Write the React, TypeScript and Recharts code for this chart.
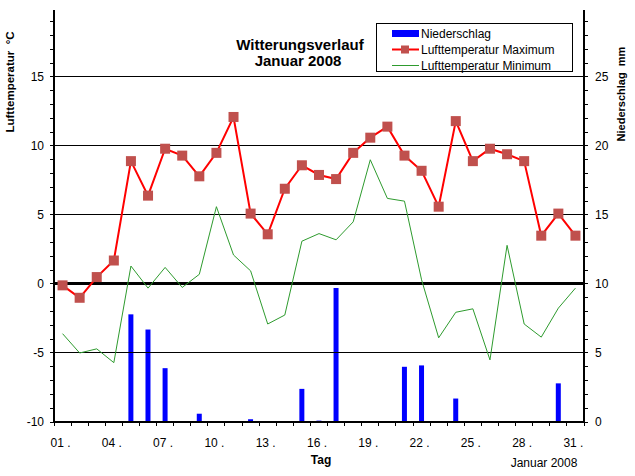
import React from 'react';
import { ComposedChart, Bar, Line, XAxis, YAxis, ReferenceLine, Legend, Customized } from 'recharts';

const days = ['01','02','03','04','05','06','07','08','09','10','11','12','13','14','15','16','17','18','19','20','21','22','23','24','25','26','27','28','29','30','31'];
const labeledDays = ['01','04','07','10','13','16','19','22','25','28','31'];
const precipitation = [0,0,0,0,7.8,6.7,3.9,0,0.6,0,0,0.2,0,0,2.4,0.1,9.7,0,0,0,4.0,4.1,0,1.7,0,0,0,0,0,2.8,0];
const tempMax = [-0.1,-1.0,0.5,1.7,8.9,6.4,9.8,9.3,7.8,9.5,12.1,5.1,3.6,6.9,8.6,7.9,7.6,9.5,10.6,11.4,9.3,8.2,5.6,11.8,8.9,9.8,9.4,8.9,3.5,5.1,3.5];
const tempMin = [-3.6,-5.0,-4.7,-5.7,1.3,-0.3,1.2,-0.25,0.7,5.6,2.1,0.95,-2.9,-2.25,3.1,3.65,3.2,4.5,9.0,6.2,6.0,0.3,-3.9,-2.05,-1.8,-5.5,2.8,-2.9,-3.85,-1.75,-0.3];
const leftTicks = [-10,-9,-8,-7,-6,-5,-4,-3,-2,-1,0,1,2,3,4,5,6,7,8,9,10,11,12,13,14,15,16,17,18,19];
const rightTicks = [0,1,2,3,4,5,6,7,8,9,10,11,12,13,14,15,16,17,18,19,20,21,22,23,24,25,26,27,28,29];
const gridLines = [-5,5,10,15];

const data = days.map((d, i) => ({ day: d, precip: precipitation[i], max: tempMax[i], min: tempMin[i] }));

const FONT = '"Liberation Sans", Arial, sans-serif';

const YTick = (props: any) => {
  const { x, y, payload, textAnchor } = props;
  if (payload.value % 5 !== 0) return <g />;
  return (
    <text x={x} y={y} dy="0.36em" textAnchor={textAnchor} fontFamily={FONT} fontSize={12} fill="#000">
      {payload.value}
    </text>
  );
};

const XTick = (props: any) => {
  const { x, y, payload, index } = props;
  const half = payload && typeof payload.offset === 'number' && payload.offset > 0 ? payload.offset : 8.56;
  return (
    <g>
      <line x1={x - half} x2={x - half} y1={y} y2={y + 4} stroke="#000" strokeWidth={1} shapeRendering="crispEdges" />
      {index === days.length - 1 && (
        <line x1={x + half} x2={x + half} y1={y} y2={y + 4} stroke="#000" strokeWidth={1} shapeRendering="crispEdges" />
      )}
      {labeledDays.includes(payload.value) && (
        <text x={x - 2} y={y + 25} textAnchor="middle" fontFamily={FONT} fontSize={12} fill="#000">
          {payload.value + ' .'}
        </text>
      )}
    </g>
  );
};

const SquareDot = (props: any) => {
  const { cx, cy } = props;
  if (cx == null || cy == null) return <g />;
  return <rect x={cx - 5} y={cy - 5} width={10} height={10} fill="#C0504D" />;
};

const LegendBox = () => (
  <svg width={198} height={50} style={{ display: 'block' }}>
    <rect x={0.5} y={0.5} width={196} height={48} fill="#fff" stroke="#000" strokeWidth={1} />
    <rect x={16} y={7} width={27} height={7} fill="#0000FF" />
    <text x={45} y={14.5} fontFamily={FONT} fontSize={12} fill="#000">Niederschlag</text>
    <line x1={16} x2={43} y1={26.5} y2={26.5} stroke="#FF0000" strokeWidth={2} />
    <rect x={25} y={22.5} width={8} height={8} fill="#C0504D" />
    <text x={45} y={31} fontFamily={FONT} fontSize={12} fill="#000">Lufttemperatur Maximum</text>
    <line x1={16} x2={43} y1={42.5} y2={42.5} stroke="#2E9B2E" strokeWidth={1} />
    <text x={45} y={47} fontFamily={FONT} fontSize={12} fill="#000">Lufttemperatur Minimum</text>
  </svg>
);

const Texts = () => (
  <g fontFamily={FONT} fill="#000">
    <text x={300} y={50} textAnchor="middle" fontSize={15} fontWeight="bold">Witterungsverlauf</text>
    <text x={298} y={66} textAnchor="middle" fontSize={15} fontWeight="bold">Januar 2008</text>
    <text transform="translate(14,82) rotate(-90)" textAnchor="middle" fontSize={11.5} fontWeight="bold">{'Lufttemperatur\u00A0\u00A0°C'}</text>
    <text transform="translate(625,94) rotate(-90)" textAnchor="middle" fontSize={11} fontWeight="bold">{'Niederschlag\u00A0\u00A0mm'}</text>
    <text x={321} y={464} textAnchor="middle" fontSize={12} fontWeight="bold">Tag</text>
    <text x={544} y={467} textAnchor="middle" fontSize={12}>Januar 2008</text>
  </g>
);

export default function App() {
  return (
    <div style={{ position: 'absolute', left: 0, top: 0, width: 635, height: 476, background: '#fff' }}>
      <ComposedChart width={635} height={476} data={data} margin={{ top: 10, right: 0, bottom: 0, left: 0 }}>
        <XAxis
          dataKey="day"
          xAxisId="x"
          height={54}
          interval={0}
          axisLine={{ stroke: '#000', strokeWidth: 2 }}
          tickLine={false}
          tickSize={0}
          tickMargin={0}
          tick={<XTick />}
        />
        <YAxis
          yAxisId="left"
          orientation="left"
          width={54}
          type="number"
          domain={[-10, 19.85]}
          ticks={leftTicks}
          interval={0}
          allowDataOverflow
          axisLine={{ stroke: '#000', strokeWidth: 2 }}
          tickLine={{ stroke: '#000', strokeWidth: 1, shapeRendering: 'crispEdges' }}
          tickSize={4}
          tickMargin={6}
          tick={<YTick />}
        />
        <YAxis
          yAxisId="right"
          orientation="right"
          width={51}
          type="number"
          domain={[0, 29.85]}
          ticks={rightTicks}
          interval={0}
          allowDataOverflow
          axisLine={{ stroke: '#000', strokeWidth: 2 }}
          tickLine={{ stroke: '#000', strokeWidth: 1, shapeRendering: 'crispEdges' }}
          tickSize={4}
          tickMargin={7}
          tick={<YTick />}
        />
        {gridLines.map((g) => (
          <ReferenceLine key={g} y={g} yAxisId="left" xAxisId="x" stroke="#000" strokeWidth={1} shapeRendering="crispEdges" />
        ))}
        <ReferenceLine y={0} yAxisId="left" xAxisId="x" stroke="#000" strokeWidth={3} shapeRendering="crispEdges" />
        <Bar dataKey="precip" yAxisId="right" xAxisId="x" fill="#0000FF" barSize={5} isAnimationActive={false} legendType="rect" name="Niederschlag" />
        <Line dataKey="max" yAxisId="left" xAxisId="x" type="linear" stroke="#FF0000" strokeWidth={2} dot={<SquareDot />} activeDot={false} isAnimationActive={false} name="Lufttemperatur Maximum" />
        <Line dataKey="min" yAxisId="left" xAxisId="x" type="linear" stroke="#2E9B2E" strokeWidth={1} dot={false} activeDot={false} isAnimationActive={false} name="Lufttemperatur Minimum" />
        <Legend
          layout="horizontal"
          verticalAlign="middle"
          align="center"
          content={<LegendBox />}
          wrapperStyle={{ position: 'absolute', left: 376, top: 23, width: 198, height: 50 }}
        />
        <Customized component={<Texts />} />
      </ComposedChart>
    </div>
  );
}
